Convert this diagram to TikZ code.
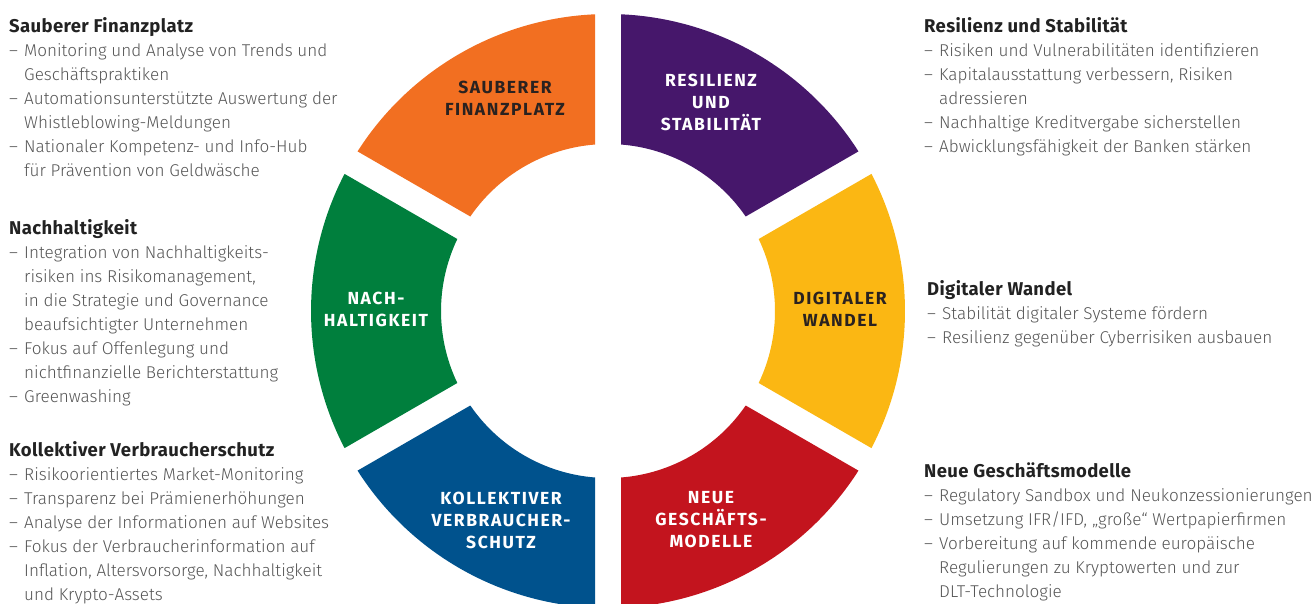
\documentclass[tikz,border=0pt]{standalone}
\usepackage{fontspec}
\setmainfont{Fira Sans}[UprightFont={* Light},BoldFont={* Bold}]
\usetikzlibrary{calc}

\definecolor{sfOrange}{HTML}{F26F21}
\definecolor{rsPurple}{HTML}{46176B}
\definecolor{nhGreen}{HTML}{007F3D}
\definecolor{dwYellow}{HTML}{FBB713}
\definecolor{ngRed}{HTML}{C3141E}
\definecolor{kvBlue}{HTML}{00528D}
\definecolor{bodyGray}{HTML}{555555}
\definecolor{headGray}{HTML}{222222}
\definecolor{labDark}{HTML}{2A2220}

\newcommand\dashitem{\makebox[15pt][l]{–}}
\newcommand\contline{\hspace*{15pt}}
\newcommand\blockhead[1]{\rule{0pt}{15pt}{\color{headGray}\fontsize{18.5}{24}\selectfont\bfseries\addfontfeature{LetterSpace=2}#1}}

\begin{document}
\begin{tikzpicture}[line cap=round,line join=round,
  x=1pt,y=-1pt,   % pixel coordinates, y downwards
  seglabel/.style={align=center,inner sep=0pt,
    font=\fontsize{17.5}{22}\selectfont\bfseries\addfontfeature{LetterSpace=9}},
  textblock/.style={anchor=north west,inner sep=0pt,align=left,text=bodyGray,
    font=\fontsize{17.1}{24}\selectfont},
  ]
  \def\ro{297}  % outer radius
  \def\ri{167}  % inner radius
  \def\gp{13}   % half gap width
  \pgfmathsetmacro\dO{asin(\gp/\ro)}
  \pgfmathsetmacro\dI{asin(\gp/\ri)}
  \useasboundingbox (0,0) rectangle (1316,603);
  \coordinate (M) at (608,311); % ring center
  % RING
  \begin{scope}[shift={(M)},yscale=-1]
    \foreach \a/\col in {30/rsPurple,90/sfOrange,150/nhGreen,210/kvBlue,270/ngRed,330/dwYellow}{
      \fill[\col] (\a+\dO:\ro) arc[start angle=\a+\dO,end angle=\a+60-\dO,radius=\ro]
        -- (\a+60-\dI:\ri) arc[start angle=\a+60-\dI,end angle=\a+\dI,radius=\ri] -- cycle;
    }
  \end{scope}
  % segment labels
  \node[seglabel,text=labDark] (sauber) at (505,98)  {SAUBERER\\FINANZPLATZ};
  \node[seglabel,text=white]   (resil)  at (711,102) {RESILIENZ\\UND\\STABILITÄT};
  \node[seglabel,text=white]   (nach)   at (376,309) {NACH-\\HALTIGKEIT};
  \node[seglabel,text=labDark] (digi)   at (840,309) {DIGITALER\\WANDEL};
  \node[seglabel,text=white]   (verbr)  at (501,520) {KOLLEKTIVER\\VERBRAUCHER-\\SCHUTZ};
  \node[seglabel,text=white]   (neue)   at (711,520) {NEUE\\GESCHÄFTS-\\MODELLE};
  % TEXT BLOCKS left
  \node[textblock] (tSauber) at (9,17) {\blockhead{Sauberer Finanzplatz}\\
    \dashitem Monitoring und Analyse von Trends und\\
    \contline Geschäftspraktiken\\
    \dashitem Automationsunterstützte Auswertung der\\
    \contline Whistleblowing-Meldungen\\
    \dashitem Nationaler Kompetenz- und Info-Hub\\
    \contline für Prävention von Geldwäsche};
  \node[textblock] (tNach) at (9,219) {\blockhead{Nachhaltigkeit}\\
    \dashitem Integration von Nachhaltigkeits-\\
    \contline risiken ins Risikomanagement,\\
    \contline in die Strategie und Governance\\
    \contline beaufsichtigter Unternehmen\\
    \dashitem Fokus auf Offenlegung und\\
    \contline nichtfinanzielle Berichterstattung\\
    \dashitem Greenwashing};
  \node[textblock] (tVerbr) at (9,441) {\blockhead{Kollektiver Verbraucherschutz}\\
    \dashitem Risikoorientiertes Market-Monitoring\\
    \dashitem Transparenz bei Prämienerhöhungen\\
    \dashitem Analyse der Informationen auf Websites\\
    \dashitem Fokus der Verbraucherinformation auf\\
    \contline Inflation, Altersvorsorge, Nachhaltigkeit\\
    \contline und Krypto-Assets};
  % TEXT BLOCKS right
  \node[textblock] (tResil) at (924,17) {\blockhead{Resilienz und Stabilität}\\
    \dashitem Risiken und Vulnerabilitäten identifizieren\\
    \dashitem Kapitalausstattung verbessern, Risiken\\
    \contline adressieren\\
    \dashitem Nachhaltige Kreditvergabe sicherstellen\\
    \dashitem Abwicklungsfähigkeit der Banken stärken};
  \node[textblock] (tDigi) at (927,280) {\blockhead{Digitaler Wandel}\\
    \dashitem Stabilität digitaler Systeme fördern\\
    \dashitem Resilienz gegenüber Cyberrisiken ausbauen};
  \node[textblock] (tNeue) at (924,462) {\blockhead{Neue Geschäftsmodelle}\\
    \dashitem Regulatory Sandbox und Neukonzessionierungen\\
    \dashitem Umsetzung IFR/IFD, „große“ Wertpapierfirmen\\
    \dashitem Vorbereitung auf kommende europäische\\
    \contline Regulierungen zu Kryptowerten und zur\\
    \contline DLT-Technologie};
\end{tikzpicture}
\end{document}
